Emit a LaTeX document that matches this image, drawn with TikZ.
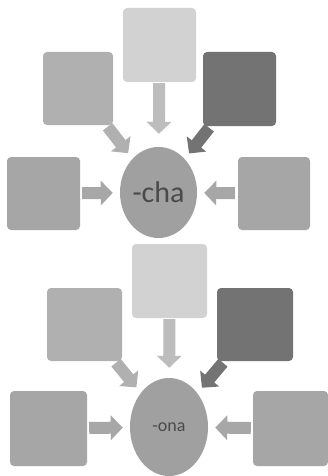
\documentclass[tikz,border=0pt]{standalone}
\usepackage{fontspec}
\setmainfont{Carlito}
\usetikzlibrary{arrows.meta,positioning,shapes.geometric}
\definecolor{pale}{HTML}{D2D2D2}
\definecolor{mid}{HTML}{B0B0B0}
\definecolor{side}{HTML}{A6A6A6}
\definecolor{deep}{HTML}{737373}
\definecolor{hub}{HTML}{A0A0A0}
\definecolor{ink}{HTML}{4A4A4A}

\begin{document}
\begin{tikzpicture}[
  x=1pt, y=-1pt,
  box/.style={rounded corners=4pt, inner sep=0pt, minimum width=74pt, minimum height=74pt},
  hubnode/.style={ellipse, fill=hub, inner sep=0pt, text=ink},
  barrow/.style={-{Triangle[width=24pt, length=12pt]}, line width=12pt, shorten <=2pt, shorten >=7pt}
]
\useasboundingbox[fill=white] (0,0) rectangle (328,476);

% first group
\node[box, fill=pale, minimum width=73pt] (chtop) at (159.5,45) {};
\node[box, fill=mid, minimum width=70pt, minimum height=73pt] (chtl) at (78,88.5) {};
\node[box, fill=deep, minimum width=73pt] (chtr) at (239.5,89) {};
\node[box, fill=side, minimum width=73pt, minimum height=73pt] (chl) at (43.5,193.5) {};
\node[box, fill=side, minimum width=72pt, minimum height=73pt] (chr) at (274,193.5) {};
\node[hubnode, minimum width=77pt, minimum height=91pt, font=\fontsize{30}{30}\selectfont] (cha) at (158.5,192.5) {-cha};

\draw[barrow, draw=pale!90!black, shorten >=13pt, shorten <=1pt] (chtop) -- (cha);
\draw[barrow, draw=mid] (chtl) -- (cha);
\draw[barrow, draw=deep] (chtr) -- (cha);
\draw[barrow, draw=mid!95!black] (chl) -- (cha);
\draw[barrow, draw=mid!95!black, shorten <=3pt] (chr) -- (cha);

% second group
\node[box, fill=pale, minimum width=75pt] (onatop) at (169.5,281) {};
\node[box, fill=mid, minimum width=75pt, minimum height=73pt] (onatl) at (84.5,324.5) {};
\node[box, fill=deep, minimum width=76pt, minimum height=73pt] (onatr) at (255,324.5) {};
\node[box, fill=side, minimum width=77pt, minimum height=75pt] (onal) at (48.5,428.5) {};
\node[box, fill=side, minimum width=75pt, minimum height=75pt] (onar) at (290.5,428.5) {};
\node[hubnode, minimum width=78pt, minimum height=98pt, font=\fontsize{18}{18}\selectfont] (ona) at (169,427) {-ona};

\draw[barrow, draw=pale!90!black, shorten >=10pt, shorten <=1pt] (onatop) -- (ona);
\draw[barrow, draw=mid] (onatl) -- (ona);
\draw[barrow, draw=deep] (onatr) -- (ona);
\draw[barrow, draw=mid!95!black] (onal) -- (ona);
\draw[barrow, draw=mid!95!black] (onar) -- (ona);

\end{tikzpicture}
\end{document}
